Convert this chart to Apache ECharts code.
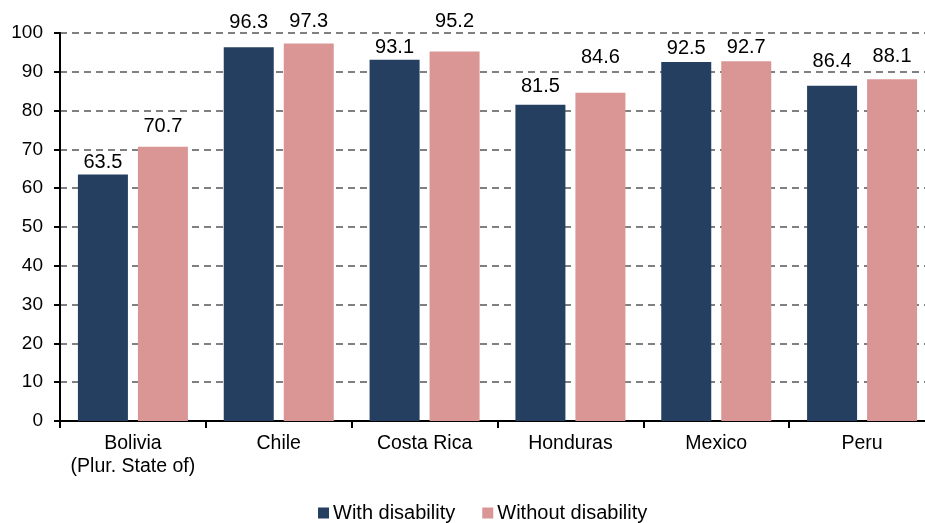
<!DOCTYPE html>
<html><head><meta charset="utf-8">
<script src="https://cdn.jsdelivr.net/npm/echarts@6/dist/echarts.min.js"></script>
<style>html,body{margin:0;padding:0;background:#fff;overflow:hidden}#c{width:945px;height:523px}</style>
</head><body><div id="c"></div>
<script>
const categories = ['Bolivia\n(Plur. State of)', 'Chile', 'Costa Rica', 'Honduras', 'Mexico', 'Peru'];
const withDisability = [63.5, 96.3, 93.1, 81.5, 92.5, 86.4];
const withoutDisability = [70.7, 97.3, 95.2, 84.6, 92.7, 88.1];
const seriesNames = ['With disability', 'Without disability'];

// label placement (style): gap in px between bar top and its value label
const labelGapWith = [2, 15, 2, 8, 4, 14];
const labelGapWithout = [10, 12, 20, 25, 4, 13];

const font = 'Liberation Sans, Arial, sans-serif';
const chart = echarts.init(document.getElementById('c'), null, {renderer: 'canvas'});
const baseLabel = {show: true, position: 'top', color: '#000', fontSize: 20, fontFamily: font, formatter: p => p.value.toFixed(1)};
const withLabels = (vals, gaps) => vals.map((v, i) => ({value: v, label: Object.assign({}, baseLabel, {distance: gaps[i]})}));

chart.setOption({
  animation: false,
  textStyle: {fontFamily: font},
  grid: {left: 60, top: 33, bottom: 102, width: 875, containLabel: false},
  legend: {
    left: 318, top: 503, padding: 0, itemWidth: 11, itemHeight: 11, itemGap: 27, icon: 'rect',
    textStyle: {fontSize: 20, color: '#000', fontFamily: font, padding: [0,0,0,-1]},
    data: seriesNames
  },
  xAxis: {
    type: 'category', data: categories,
    axisLine: {lineStyle: {color: '#000', width: 2}},
    axisTick: {show: true, length: 7, lineStyle: {color: '#000', width: 2}},
    axisLabel: {color: '#000', fontSize: 19.5, fontFamily: font, margin: 11, lineHeight: 23, interval: 0}
  },
  yAxis: {
    type: 'value', min: 0, max: 100, interval: 10,
    axisLine: {show: true, lineStyle: {color: '#000', width: 2}},
    axisTick: {show: true, length: 6, lineStyle: {color: '#000', width: 2}},
    axisLabel: {color: '#000', fontSize: 19, fontFamily: font, margin: 17},
    splitLine: {show: true, lineStyle: {color: '#808080', width: 2, type: [7, 5]}}
  },
  series: [
    {name: seriesNames[0], type: 'bar', data: withLabels(withDisability, labelGapWith), barWidth: 50, barGap: '20%', itemStyle: {color: '#243F60'}},
    {name: seriesNames[1], type: 'bar', data: withLabels(withoutDisability, labelGapWithout), barWidth: 50, itemStyle: {color: '#D99694'}}
  ]
});
</script></body></html>
